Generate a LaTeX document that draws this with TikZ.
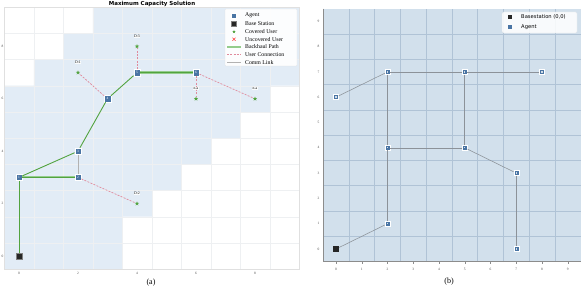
\documentclass[tikz,border=0pt]{standalone}
\usepackage{fontspec}
\setmainfont{Liberation Serif}
\newfontfamily\dvs{DejaVu Sans}
\usetikzlibrary{shapes.geometric,shapes.misc}
\definecolor{covblue}{HTML}{E2ECF6}
\definecolor{agentblue}{HTML}{4A75A4}
\definecolor{bhgreen}{HTML}{52A33F}
\definecolor{bhlight}{HTML}{94CC8C}
\definecolor{ucpink}{HTML}{E08A9C}
\definecolor{bbg}{HTML}{D2E0EC}
\definecolor{bgrid}{HTML}{B0C3D6}
\definecolor{blink}{HTML}{8C9299}
\definecolor{agridc}{HTML}{EEF0F2}
\begin{document}
\begin{tikzpicture}[x=1pt,y=1pt,
  agentA/.style={rectangle, fill=agentblue, draw=white, line width=0.3pt, minimum size=6.5pt, inner sep=0pt, text=white, font=\fontsize{3.5}{3.5}\selectfont},
  bsA/.style={rectangle, fill=black!85, draw=gray, line width=0.2pt, minimum size=6pt, inner sep=0pt},
  user/.style={star, star points=5, star point ratio=2.4, fill=bhgreen, draw=none, minimum size=4.5pt, inner sep=0pt},
  ulabel/.style={fill=white, fill opacity=0.85, text opacity=1, inner sep=0.6pt, font=\fontsize{3.8}{4}\selectfont},
  backhaul/.style={draw=bhgreen, line width=0.9pt},
  backhaulwide/.style={draw=bhlight, line width=2.2pt},
  userconn/.style={draw=ucpink, line width=0.7pt, dash pattern=on 2pt off 1.3pt},
  commlink/.style={draw=black!30, line width=0.7pt},
  ticklab/.style={font=\fontsize{3.5}{3.5}\selectfont, text=black!70, inner sep=0pt},
  legtext/.style={anchor=west, inner sep=0pt, font=\fontsize{5.8}{6}\selectfont},
  agentB/.style={rectangle, fill=agentblue, draw=white, line width=0.4pt, minimum size=5pt, inner sep=0pt,
    path picture={\fill[white!75!agentblue] ([shift={(-0.7pt,-0.7pt)}]path picture bounding box.center) rectangle ([shift={(0.7pt,0.7pt)}]path picture bounding box.center);}},
  bsB/.style={rectangle, fill=black!85, minimum size=6pt, inner sep=0pt},
  linkB/.style={draw=blink, line width=0.55pt},
  legtextB/.style={anchor=west, inner sep=0pt, font=\dvs\fontsize{5.2}{6}\selectfont}
]
\useasboundingbox (0,0) rectangle (581,289);
\fill[white] (0,0) rectangle (581,289);

% ================= Panel (a) =================
\node[font=\dvs\bfseries\fontsize{5.5}{6}\selectfont, inner sep=0pt] (title) at (152,285) {Maximum Capacity Solution};
\begin{scope}[xshift=19pt, yshift=33pt, x=29.5pt, y=26.2pt]
  \fill[covblue] (-0.5,-0.5) -- (3.5,-0.5) -- (3.5,1.5) -- (4.5,1.5) -- (4.5,2.5) -- (5.5,2.5) -- (5.5,3.5) -- (6.5,3.5) -- (6.5,4.5) -- (7.5,4.5) -- (7.5,5.5) -- (8.5,5.5) -- (8.5,6.5) -- (9.5,6.5) -- (9.5,9.5) -- (2.5,9.5) -- (2.5,8.5) -- (1.5,8.5) -- (1.5,7.5) -- (0.5,7.5) -- (0.5,6.5) -- (-0.5,6.5) -- cycle;
  \foreach \v in {0.5,1.5,...,8.5} {
    \draw[agridc, line width=0.3pt] (\v,-0.5) -- (\v,9.5);
    \draw[agridc, line width=0.3pt] (-0.5,\v) -- (9.5,\v);
  }
  \draw[black!12, line width=0.4pt] (-0.5,-0.5) rectangle (9.5,9.5);
  \foreach \t in {0,2,4,6,8} {
    \node[ticklab] at (\t,-0.66) {\t};
    \node[ticklab] at (-0.56,\t) {\t};
  }
  % nodes
  \node[bsA] (bs) at (0,0) {};
  \node[agentA] (a1) at (0,3) {1};
  \node[agentA] (a2) at (2,3) {2};
  \node[agentA] (a3) at (2,4) {3};
  \node[agentA] (a4) at (3,6) {4};
  \node[agentA] (a5) at (4,7) {5};
  \node[agentA] (a6) at (6,7) {6};
  \node[user] (u1) at (2,7) {};
  \node[user] (u2) at (4,8) {};
  \node[user] (u3) at (6,6) {};
  \node[user] (u4) at (8,6) {};
  \node[user] (u5) at (4,2) {};
  % links
  \path[backhaul] (bs) -- (a1);
  \path[backhaulwide] (a1) -- (a2);
  \path[draw=bhgreen, line width=0.5pt] (a1) -- (a2);
  \path[backhaul] (a1) -- (a3);
  \path[backhaul] (a3) -- (a4);
  \path[backhaul] (a4) -- (a5);
  \path[backhaulwide] (a5) -- (a6);
  \path[draw=bhgreen, line width=0.5pt] (a5) -- (a6);
  \path[commlink] (a2) -- (a3);
  \path[userconn] (a4) -- (u1);
  \path[userconn] (a5) -- (u2);
  \path[userconn] (a6) -- (u3);
  \path[userconn] (a6) -- (u4);
  \path[userconn] (a2) -- (u5);
  % user labels
  \node[ulabel] (l1) at ([yshift=10pt]u1.center) {D:1};
  \node[ulabel] (l2) at ([yshift=10pt]u2.center) {D:3};
  \node[ulabel] (l3) at ([yshift=10pt]u3.center) {n.a};
  \node[ulabel] (l4) at ([yshift=10pt]u4.center) {n.a};
  \node[ulabel] (l5) at ([yshift=10pt]u5.center) {D:2};
\end{scope}
% legend (a)
\draw[black!12, fill=white, fill opacity=0.92, line width=0.3pt, rounded corners=1pt] (225,223) rectangle (297,280);
\node[agentA, minimum size=5pt] (lgA) at (234,273.3) {};
\node[legtext] (lgAt) at (245,273.3) {Agent};
\node[bsA, minimum size=5pt] (lgB) at (234,265.3) {};
\node[legtext] (lgBt) at (245,265.3) {Base Station};
\node[user, minimum size=3.5pt] (lgC) at (234,257.3) {};
\node[legtext] (lgCt) at (245,257.3) {Covered User};
\node[cross out, draw=red!75, line width=0.6pt, minimum size=2.5pt, inner sep=0pt] (lgD) at (234,249.7) {};
\node[legtext] (lgDt) at (245,249.7) {Uncovered User};
\coordinate (lgE1) at (227,242.3); \coordinate (lgE2) at (241,242.3);
\path[backhaulwide] (lgE1) -- (lgE2);
\node[legtext] (lgEt) at (245,242.3) {Backhaul Path};
\coordinate (lgF1) at (227,234.7); \coordinate (lgF2) at (241,234.7);
\path[userconn] (lgF1) -- (lgF2);
\node[legtext] (lgFt) at (245,234.7) {User Connection};
\coordinate (lgG1) at (227,226.7); \coordinate (lgG2) at (241,226.7);
\path[commlink] (lgG1) -- (lgG2);
\node[legtext] (lgGt) at (245,226.7) {Comm Link};
\node[font=\fontsize{8}{9}\selectfont, inner sep=0pt] (capa) at (151,6) {(a)};

% ================= Panel (b) =================
\begin{scope}[xshift=336pt, yshift=40pt, x=25.75pt, y=25.3pt]
  \fill[bbg] (-0.5,-0.5) rectangle (9.5,9.5);
  \foreach \v in {0.5,1.5,...,8.5} {
    \draw[bgrid, line width=0.5pt] (\v,-0.5) -- (\v,9.5);
    \draw[bgrid, line width=0.5pt] (-0.5,\v) -- (9.5,\v);
  }
  \draw[black!45, line width=0.4pt] (-0.5,9.5) -- (-0.5,-0.5) -- (9.5,-0.5);
  \foreach \t in {0,...,9} {
    \draw[black!45, line width=0.3pt] (\t,-0.5) -- (\t,-0.6);
    \node[ticklab] at (\t,-0.82) {\t};
    \node[ticklab] at (-0.68,\t) {\t};
  }
  \node[bsB] (bbs) at (0,0) {};
  \node[agentB] (b1) at (2,1) {};
  \node[agentB] (b2) at (2,4) {};
  \node[agentB] (b3) at (2,7) {};
  \node[agentB] (b4) at (0,6) {};
  \node[agentB] (b5) at (5,7) {};
  \node[agentB] (b6) at (8,7) {};
  \node[agentB] (b7) at (5,4) {};
  \node[agentB] (b8) at (7,3) {};
  \node[agentB] (b9) at (7,0) {};
  \path[linkB] (bbs) -- (b1);
  \path[linkB] (b1) -- (b2);
  \path[linkB] (b2) -- (b3);
  \path[linkB] (b4) -- (b3);
  \path[linkB] (b3) -- (b5);
  \path[linkB] (b5) -- (b6);
  \path[linkB] (b5) -- (b7);
  \path[linkB] (b2) -- (b7);
  \path[linkB] (b7) -- (b8);
  \path[linkB] (b8) -- (b9);
\end{scope}
% legend (b)
\draw[black!10, fill=white, fill opacity=0.85, line width=0.3pt, rounded corners=1.5pt] (502,256) rectangle (577,277);
\node[bsB, minimum size=4pt] (lgbA) at (510,272) {};
\node[legtextB] (lgbAt) at (521,272) {Basestation (0,0)};
\node[rectangle, fill=agentblue, minimum size=4pt, inner sep=0pt] (lgbB) at (510,262) {};
\node[legtextB] (lgbBt) at (521,262) {Agent};
\node[font=\fontsize{8}{9}\selectfont, inner sep=0pt] (capb) at (449,7) {(b)};
\end{tikzpicture}
\end{document}
